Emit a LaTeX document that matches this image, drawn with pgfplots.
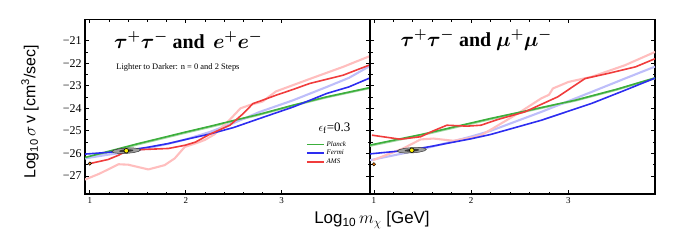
\documentclass[border=0pt]{standalone}
\usepackage{pgfplots}
\pgfplotsset{compat=1.18}
\usepackage{fontspec}
\setmainfont{Liberation Serif}
\newfontfamily\hel{Liberation Sans}
\definecolor{cG}{RGB}{60,175,60}
\definecolor{cB}{RGB}{45,45,240}
\definecolor{cR}{RGB}{240,60,60}
\definecolor{lG}{RGB}{165,215,165}
\definecolor{lB}{RGB}{190,190,250}
\definecolor{lR}{RGB}{255,190,190}
\pgfplotsset{
  panel/.style={
    scale only axis, width=285bp, height=174.5bp,
    ymin=-27.8, ymax=-20.06,
    xtick={1,2,3}, minor x tick num=4,
    ytick={-27,-26,-25,-24,-23,-22,-21}, minor y tick num=1,
    tick align=inside, major tick length=4bp, minor tick length=2.5bp,
    tick style={black, line width=0.8bp},
    axis line style={black, line width=1.2bp},
    xticklabel style={font=\fontsize{9}{10}\selectfont},
    yticklabel style={font=\fontsize{12}{13}\selectfont},
    xticklabels={1,2,3},
    clip=true,
  },
  dk/.style={line width=1.6bp, line join=round},
  lt/.style={line width=2.1bp, line join=round},
  ell/.style={fill=gray!75, draw=gray!45!black, line width=0.5bp, forget plot},
  ellin/.style={fill=gray!45!black, draw=none, forget plot},
}
\begin{document}
\begin{tikzpicture}[x=1bp,y=1bp]
\useasboundingbox (0,0) rectangle (681,243);
% ---------------- left panel
\begin{axis}[panel, at={(85bp,49bp)}, anchor=south west,
  xmin=0.95, xmax=3.92,
  yticklabels={−27,−26,−25,−24,−23,−22,−21},
  legend style={draw=none, fill=none, at={(rel axis cs:0.775,0.315)}, anchor=north west,
    font=\fontsize{7}{8}\selectfont\itshape, row sep=-1.5pt, inner sep=0pt},
  legend cell align=left,
]
\addlegendimage{no markers, line width=1.6bp, color=cG}\addlegendentry{Planck}
\addlegendimage{no markers, line width=1.6bp, color=cB}\addlegendentry{Fermi}
\addlegendimage{no markers, line width=1.6bp, color=cR}\addlegendentry{AMS}
% light (n=0)
\addplot[lt, lG, forget plot] coordinates {(0.95,-26.22)(1.5,-25.6)(2.0,-25.08)(2.25,-24.83)(2.77,-24.28)(3.12,-23.88)(3.47,-23.51)(3.92,-23.1)};
\addplot[lt, lB, forget plot] coordinates {(0.95,-26.22)(1.2,-26.05)(1.4,-25.93)(1.6,-25.77)(1.82,-25.57)(2.0,-25.38)(2.25,-25.05)(2.5,-24.65)(2.77,-24.16)(3.12,-23.64)(3.47,-23.05)(3.7,-22.65)(3.92,-22.12)};
\addplot[lt, lR, forget plot] coordinates {(0.95,-27.16)(1.1,-26.9)(1.3,-26.48)(1.4,-26.5)(1.61,-26.71)(1.78,-26.52)(1.885,-26.22)(1.99,-25.71)(2.125,-25.52)(2.2,-25.4)(2.3,-25.15)(2.46,-24.5)(2.57,-24.0)(2.67,-23.85)(2.8,-23.7)(2.94,-23.25)(3.29,-22.7)(3.64,-22.16)(3.92,-21.68)};
% dark (2 steps)
\addplot[dk, cG, forget plot] coordinates {(0.95,-26.18)(1.5,-25.57)(2.0,-25.05)(2.25,-24.8)(2.77,-24.26)(3.12,-23.86)(3.47,-23.49)(3.92,-23.08)};
\addplot[dk, cB, forget plot] coordinates {(0.95,-26.03)(1.2,-25.95)(1.4,-25.86)(1.6,-25.73)(1.82,-25.56)(2.0,-25.38)(2.25,-25.14)(2.5,-24.85)(2.77,-24.45)(3.12,-23.94)(3.47,-23.34)(3.7,-23.05)(3.92,-22.65)};
\addplot[dk, cR, forget plot] coordinates {(1.0,-26.45)(1.19,-26.27)(1.3,-26.08)(1.38,-25.9)(1.54,-25.83)(1.82,-25.78)(1.99,-25.64)(2.1,-25.5)(2.25,-25.15)(2.46,-24.75)(2.6,-24.23)(2.7,-23.79)(2.8,-23.64)(2.94,-23.42)(3.12,-23.16)(3.29,-22.9)(3.64,-22.53)(3.92,-22.07)};
% contours
\addplot[ell] coordinates {(1.53,-25.8425)(1.51,-25.7875)(1.455,-25.757)(1.38,-25.76)(1.305,-25.795)(1.25,-25.8525)(1.23,-25.9175)(1.25,-25.9725)(1.305,-26.003)(1.38,-26.0)(1.455,-25.965)(1.51,-25.9075)(1.53,-25.8425)};
\addplot[ellin] coordinates {(1.455,-25.861)(1.445,-25.834)(1.4175,-25.8185)(1.38,-25.82)(1.3425,-25.8375)(1.315,-25.866)(1.305,-25.899)(1.315,-25.926)(1.3425,-25.9415)(1.38,-25.94)(1.4175,-25.9225)(1.445,-25.894)(1.455,-25.861)};
\addplot[only marks, mark=*, mark size=1.7bp, mark options={fill=orange, draw=black, line width=0.5bp}, forget plot] coordinates {(1.0,-26.45)};
\addplot[only marks, mark=*, mark size=2.3bp, mark options={fill=yellow, draw=black, line width=0.6bp}, forget plot] coordinates {(1.38,-25.88)};
\node[anchor=west, font=\fontsize{20}{22}\selectfont\bfseries\boldmath] at (rel axis cs:0.09,0.883) {$\tau^{+}\tau^{-}$ and\, $e^{+}e^{-}$};
\node[anchor=west, font=\fontsize{8.5}{9}\selectfont] at (rel axis cs:0.098,0.727) {Lighter to Darker: n = 0 and 2 Steps};
\node[font=\fontsize{13}{14}\selectfont] at (rel axis cs:0.875,0.378) {$\epsilon_{\mathrm{f}}$=0.3};
\end{axis}
% ---------------- right panel
\begin{axis}[panel, at={(370bp,49bp)}, anchor=south west,
  xmin=0.96, xmax=3.89,
  yticklabels={},
]
\addplot[lt, lG] coordinates {(0.96,-25.66)(1.5,-25.18)(2.0,-24.68)(2.2,-24.48)(2.6,-24.1)(3.07,-23.66)(3.5,-23.17)(3.89,-22.67)};
\addplot[lt, lB] coordinates {(0.96,-26.3)(1.3,-26.0)(1.6,-25.7)(2.0,-25.25)(2.2,-25.0)(2.72,-24.16)(3.24,-23.27)(3.58,-22.68)(3.89,-22.15)};
\addplot[lt, lR] coordinates {(0.99,-26.3)(1.3,-25.78)(1.48,-25.38)(1.61,-25.34)(1.82,-25.44)(2.0,-25.3)(2.1,-25.2)(2.2,-24.95)(2.48,-24.23)(2.72,-23.56)(2.8,-23.4)(2.84,-23.12)(3.0,-22.83)(3.24,-22.6)(3.58,-22.09)(3.89,-21.5)};
\addplot[dk, cG] coordinates {(0.96,-25.63)(1.5,-25.15)(2.0,-24.65)(2.2,-24.45)(2.6,-24.08)(3.07,-23.64)(3.5,-23.15)(3.89,-22.65)};
\addplot[dk, cB] coordinates {(0.96,-26.02)(1.37,-25.85)(1.6,-25.68)(2.0,-25.35)(2.2,-25.16)(2.72,-24.53)(3.24,-23.78)(3.58,-23.2)(3.89,-22.66)};
\addplot[dk, cR] coordinates {(0.98,-25.19)(1.27,-25.37)(1.48,-25.26)(1.61,-25.0)(1.75,-24.75)(1.96,-24.79)(2.1,-24.75)(2.27,-24.5)(2.55,-24.16)(2.89,-23.49)(3.07,-22.97)(3.17,-22.68)(3.41,-22.45)(3.69,-22.16)(3.89,-21.8)};
\addplot[ell] coordinates {(1.54,-25.8225)(1.52,-25.7675)(1.465,-25.737)(1.39,-25.74)(1.315,-25.775)(1.26,-25.8325)(1.24,-25.8975)(1.26,-25.9525)(1.315,-25.983)(1.39,-25.98)(1.465,-25.945)(1.52,-25.8875)(1.54,-25.8225)};
\addplot[ellin] coordinates {(1.465,-25.841)(1.455,-25.814)(1.4275,-25.7985)(1.39,-25.80)(1.3525,-25.8175)(1.325,-25.846)(1.315,-25.879)(1.325,-25.906)(1.3525,-25.9215)(1.39,-25.92)(1.4275,-25.9025)(1.455,-25.874)(1.465,-25.841)};
\addplot[only marks, mark=*, mark size=1.7bp, mark options={fill=orange, draw=black, line width=0.5bp}] coordinates {(1.0,-26.48)};
\addplot[only marks, mark=*, mark size=2.3bp, mark options={fill=yellow, draw=black, line width=0.6bp}] coordinates {(1.39,-25.86)};
\node[anchor=west, font=\fontsize{20}{22}\selectfont\bfseries\boldmath] at (rel axis cs:0.095,0.883) {$\tau^{+}\tau^{-}$ and $\mu^{+}\mu^{-}$};
\end{axis}
\node[rotate=90, font=\hel\fontsize{16}{18}\selectfont] at (30,131) {Log\textsubscript{10}\,$\sigma$\,v [cm\textsuperscript{3}/sec]};
\node[font=\hel\fontsize{17}{19}\selectfont] at (372,23) {Log\textsubscript{10}\,$m_\chi$ [GeV]};
\end{tikzpicture}
\end{document}
